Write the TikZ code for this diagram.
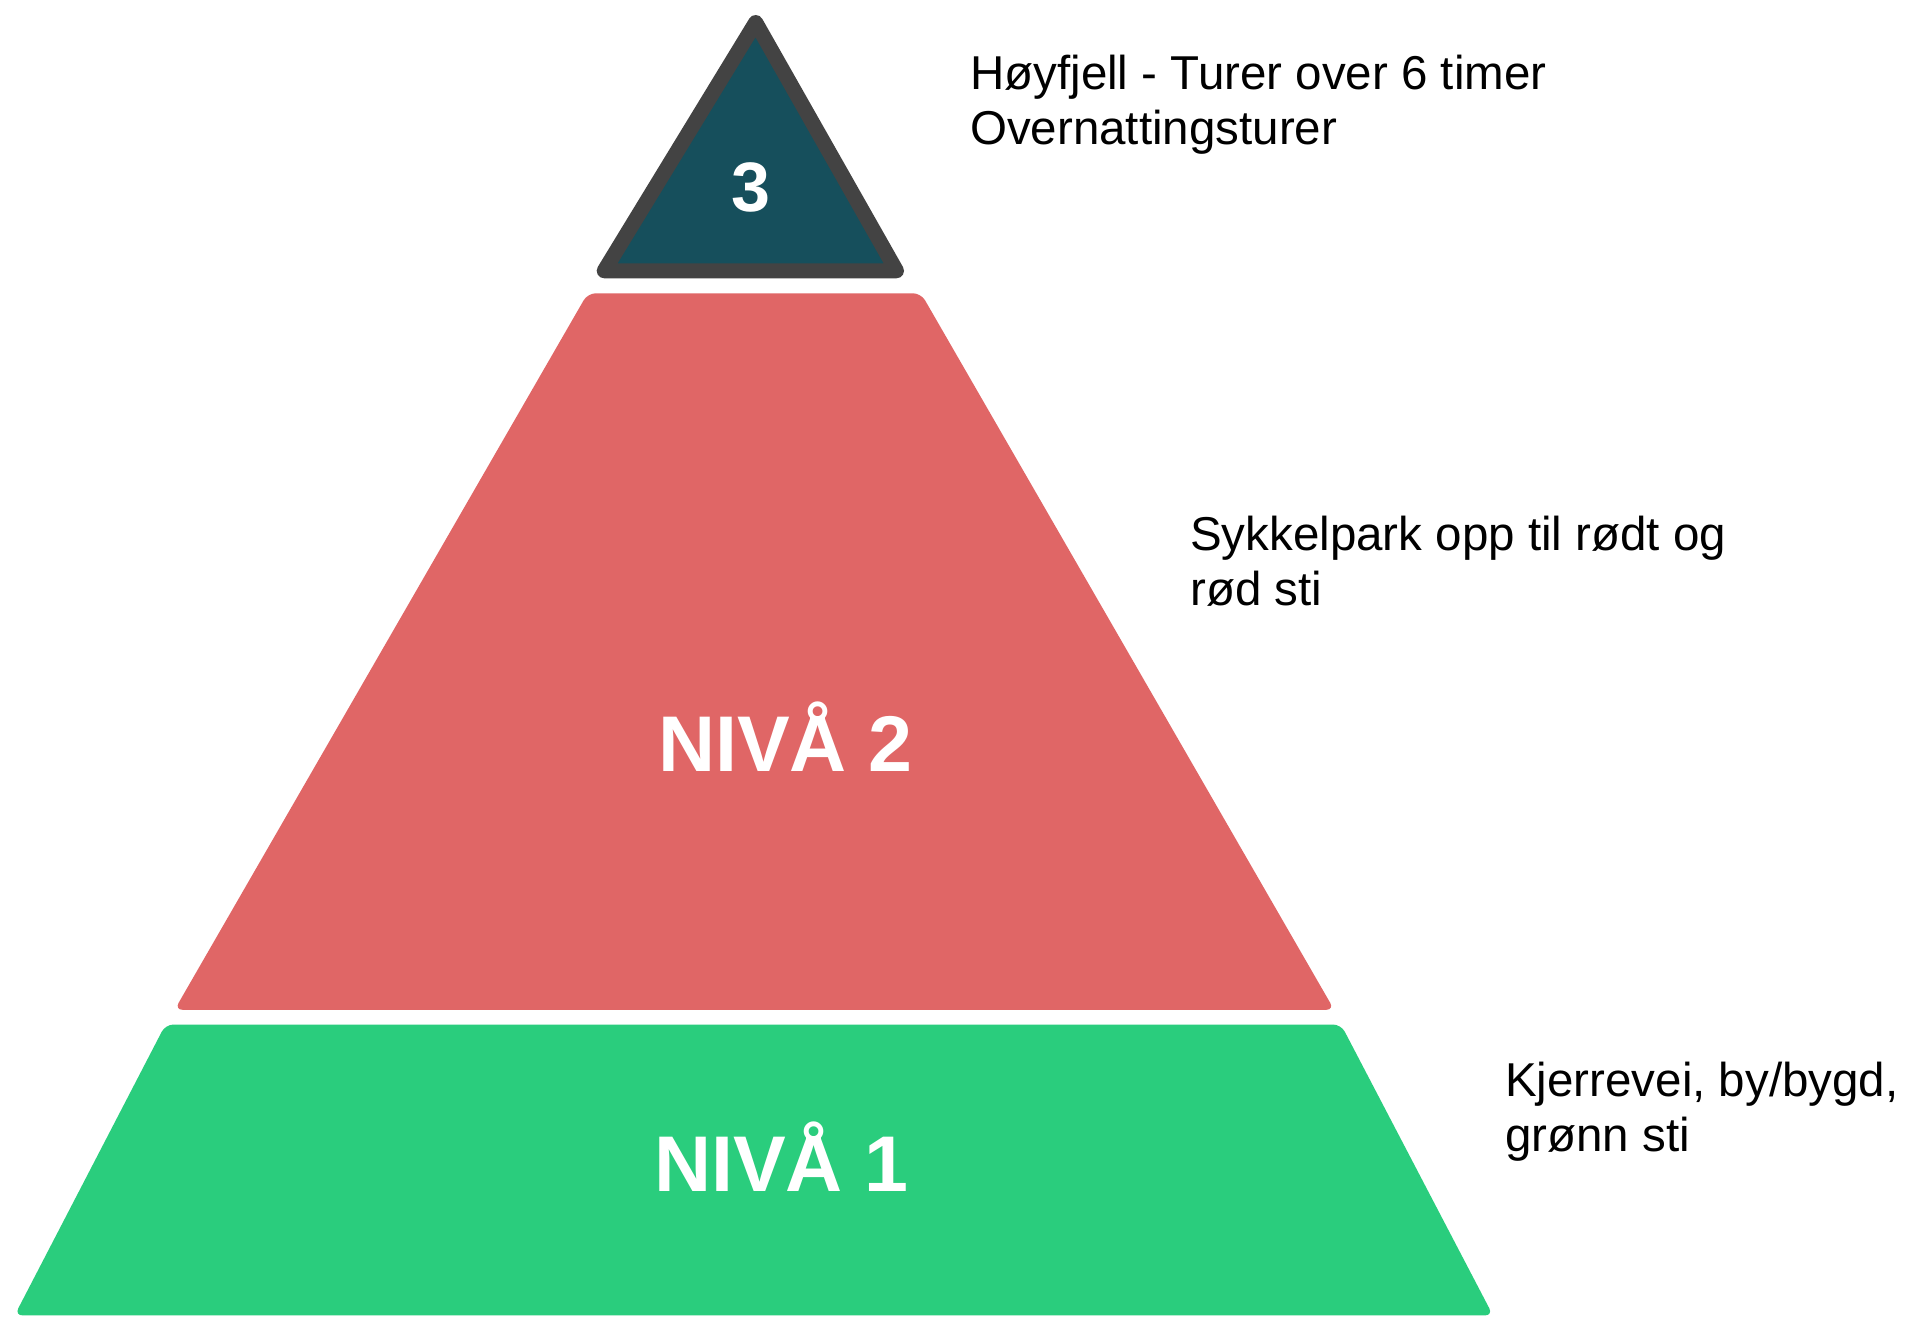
\documentclass[tikz,border=0pt]{standalone}
\usepackage{fontspec}
\setmainfont{Liberation Sans}
\definecolor{teal3}{HTML}{164F5C}
\definecolor{gray3}{HTML}{434343}
\definecolor{red2}{HTML}{E06666}
\definecolor{green1}{HTML}{2ACD7D}
\newcommand{\twolines}[2]{\vtop{\baselineskip=55pt\hbox{#1}\hbox{#2}}}
\tikzset{
  lvlfill/.style={rounded corners=8pt, draw=none},
  bigtxt/.style={text=white, inner sep=0pt, anchor=base, font=\fontsize{79}{90}\selectfont\bfseries},
  desc/.style={text=black, inner sep=0pt, anchor=base west, font=\fontsize{47.5}{55}\selectfont},
}
\begin{document}
\begin{tikzpicture}[x=1pt,y=-1pt]
\useasboundingbox[fill=white] (0,0) rectangle (1908,1319);
% level 1 (green)
\fill[lvlfill, green1] (165.5,1024.5) -- (1341,1024.5) -- (1493,1315.4) -- (14.6,1315.4) -- cycle;
% level 2 (red)
\fill[lvlfill, red2] (587.7,293.3) -- (921,293.3) -- (1334.2,1009.8) -- (174.6,1009.8) -- cycle;
% level 3 (triangle)
\filldraw[fill=teal3, draw=gray3, line width=15pt, line join=round] (755.7,22.5) -- (896.5,270.8) -- (604.2,270.8) -- cycle;
\node[bigtxt, font=\fontsize{70}{80}\selectfont\bfseries] (n3) at (751.2,211.5) {3};
\node[bigtxt] (n2) at (785.4,771.7) {NIVÅ 2};
\node[bigtxt] (n1) at (781.5,1191.7) {NIVÅ 1};
\node[desc] (d3) at (970,90) {\twolines{Høyfjell - Turer over 6 timer}{Overnattingsturer}};
\node[desc] (d2) at (1190,550) {\twolines{Sykkelpark opp til rødt og}{rød sti}};
\node[desc] (d1) at (1505,1096) {\twolines{Kjerrevei, by/bygd,}{grønn sti}};
\end{tikzpicture}
\end{document}
